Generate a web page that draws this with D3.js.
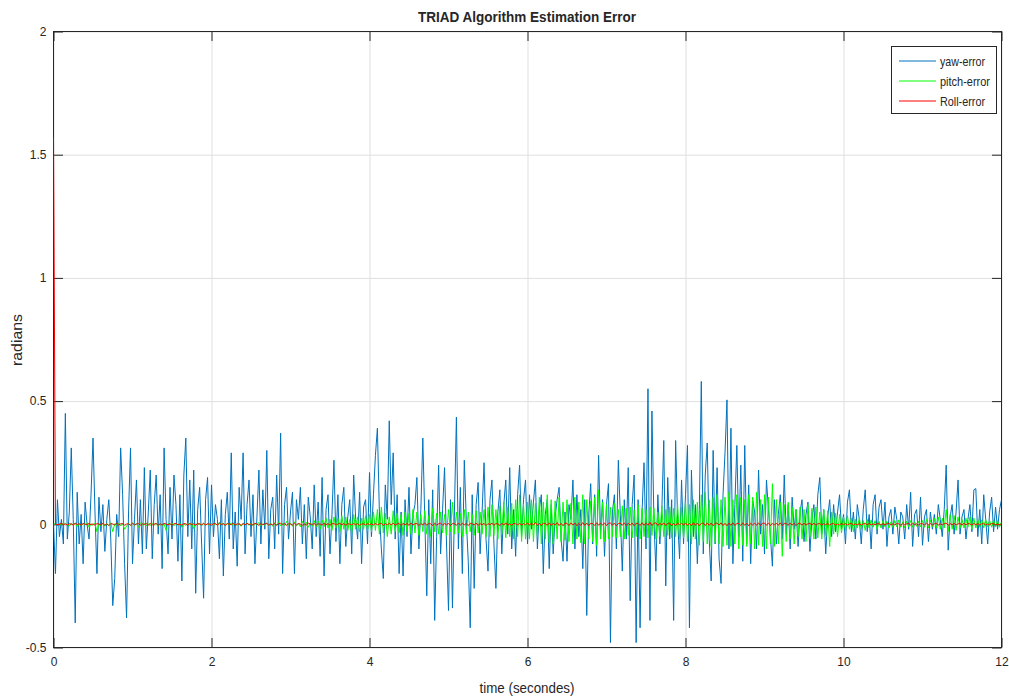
<!DOCTYPE html>
<html>
<head>
<meta charset="utf-8">
<script src="https://cdn.jsdelivr.net/npm/d3@7"></script>
<style>
  body { margin: 0; background: #fff; }
  text { font-family: "Liberation Sans Narrow", "Arial Narrow", "Liberation Sans", Arial, sans-serif; fill: #262626; }
</style>
</head>
<body>
<svg id="chart" width="1009" height="698"></svg>
<script>
// Axis ticks
const xTicks = [0, 2, 4, 6, 8, 10, 12];
const yTicks = [-0.5, 0, 0.5, 1, 1.5, 2];
const seriesNames = ["yaw-error", "pitch-error", "Roll-error"];
const seriesColors = ["#0072BD", "#00FF00", "#FF0000"];

// Estimation errors (radians), evenly sampled over 0..12 s
const yaw = [
  0.0, -0.20, 0.10, -0.05, 0.02, -0.08, 0.45, -0.06, 0.05, 0.31, 0.02, -0.40, 0.13, -0.08, 0.04, -0.16, 0.09, 0.0, -0.06, 0.12,
  0.35, 0.05, -0.20, 0.11, -0.03, 0.08, -0.11, 0.02, 0.10, -0.06, -0.33, -0.22, 0.04, -0.05, 0.31, 0.12, -0.16, -0.38, 0.05, 0.31,
  -0.16, 0.02, 0.18, -0.08, 0.10, -0.12, 0.23, -0.10, 0.05, 0.22, -0.14, 0.08, 0.20, -0.04, 0.12, -0.18, 0.31, 0.02, -0.12, 0.15,
  -0.06, 0.20, 0.08, -0.15, 0.12, -0.23, 0.20, 0.35, -0.05, 0.18, -0.10, 0.22, -0.28, 0.06, 0.15, -0.08, -0.30, 0.10, 0.19, -0.12,
  0.16, -0.05, 0.08, 0.02, -0.14, 0.10, -0.21, 0.04, 0.13, -0.06, 0.29, -0.10, 0.05, -0.17, 0.15, 0.02, 0.29, -0.12, 0.08, 0.18,
  -0.05, 0.12, -0.16, 0.03, 0.22, -0.08, 0.14, -0.02, 0.30, -0.14, 0.06, 0.11, -0.10, 0.20, -0.04, 0.37, -0.20, 0.08, 0.15, -0.06,
  0.05, 0.13, -0.20, 0.10, 0.02, 0.15, -0.08, 0.08, -0.14, 0.11, 0.03, -0.10, 0.16, -0.05, 0.09, -0.13, 0.19, -0.21, 0.06, 0.12,
  -0.12, 0.04, 0.26, -0.07, 0.12, -0.16, 0.08, 0.15, -0.09, 0.03, 0.10, -0.12, 0.20, 0.02, -0.06, 0.13, -0.16, 0.07, 0.10, -0.08,
  0.21, -0.05, 0.12, 0.28, 0.39, 0.05, -0.10, -0.22, 0.16, 0.02, 0.42, 0.08, 0.29, -0.06, 0.12, -0.20, 0.05, -0.21, 0.10, -0.05,
  0.15, -0.12, 0.04, 0.08, 0.19, -0.10, 0.06, 0.35, 0.02, -0.29, 0.10, -0.16, 0.14, -0.39, -0.05, 0.24, -0.12, 0.06, 0.23, -0.08,
  -0.35, 0.10, -0.34, 0.05, 0.435, -0.10, 0.15, -0.20, 0.26, 0.02, -0.15, -0.42, 0.12, -0.26, 0.08, 0.17, -0.12, 0.05, 0.25, -0.06,
  -0.19, 0.10, 0.18, -0.08, -0.26, 0.05, 0.14, -0.12, 0.08, 0.18, -0.04, 0.23, -0.10, 0.06, -0.13, 0.12, 0.24, -0.05, 0.10, 0.18,
  -0.08, 0.12, -0.02, 0.09, 0.18, -0.10, 0.06, 0.12, -0.20, 0.04, 0.10, -0.18, 0.08, -0.12, 0.03, 0.10, 0.15, -0.06, -0.15, 0.05,
  -0.15, 0.08, 0.02, 0.18, -0.10, 0.12, -0.05, 0.06, -0.18, 0.10, -0.37, 0.04, 0.165, -0.08, 0.12, -0.13, 0.28, -0.04, 0.10, -0.13,
  0.08, 0.165, -0.48, 0.05, 0.12, -0.10, 0.26, 0.04, -0.19, 0.10, -0.06, 0.23, -0.31, 0.08, 0.20, -0.48, 0.10, -0.42, 0.05, 0.25,
  -0.10, 0.55, -0.39, 0.46, 0.02, -0.19, 0.12, -0.08, 0.05, 0.34, -0.25, 0.19, -0.06, 0.10, -0.39, 0.34, 0.02, -0.14, 0.18, -0.08,
  0.12, 0.32, -0.42, 0.22, -0.05, 0.08, -0.16, 0.06, 0.58, -0.12, 0.20, 0.33, -0.06, -0.23, 0.30, -0.08, 0.23, -0.14, -0.24, 0.12,
  0.29, 0.505, -0.10, 0.39, -0.16, 0.08, 0.32, -0.05, 0.24, -0.15, 0.32, -0.08, 0.16, -0.16, 0.10, 0.05, -0.10, 0.22, -0.04, 0.08,
  -0.12, 0.18, 0.06, -0.05, -0.17, 0.10, -0.08, 0.04, 0.12, -0.06, 0.20, -0.04, 0.08, -0.10, 0.11, -0.02, 0.06, -0.09, 0.05, 0.10,
  -0.07, 0.04, 0.09, -0.11, 0.02, 0.08, -0.06, 0.12, 0.19, -0.04, 0.06, -0.12, 0.03, 0.10, -0.05, 0.08, -0.03, 0.05, 0.12, -0.02,
  0.04, -0.08, 0.09, 0.14, -0.03, 0.05, -0.06, 0.08, 0.02, -0.08, 0.06, 0.14, -0.03, 0.04, -0.10, 0.08, 0.12, -0.04, 0.07, 0.10,
  -0.02, 0.09, -0.09, 0.03, 0.06, -0.04, 0.07, 0.02, -0.08, 0.05, 0.03, -0.06, 0.08, -0.02, 0.13, -0.09, 0.04, 0.06, -0.05, 0.11,
  -0.085, 0.03, 0.06, -0.07, 0.05, -0.02, 0.04, -0.04, 0.08, 0.02, -0.05, 0.06, 0.24, -0.105, 0.03, 0.08, -0.04, 0.05, 0.18, -0.04,
  0.03, 0.06, -0.06, 0.02, 0.08, -0.03, 0.14, 0.145, -0.05, 0.06, -0.08, 0.12, 0.02, -0.08, 0.05, 0.11, -0.03, 0.07, -0.02, 0.06,
  0.10
];

const pitch = [
  0, .003, -.005, .002, -.004, .006, -.003, .002, -.008, .004, -.002, .005, -.01, .003, -.006, .004, -.002, .006, -.012, .003,
  -.004, .005, -.03, .002, -.006, .004, -.008, .003, -.005, .006, -.03, .002, -.004, .005, -.006, .003, -.02, -.008, .004, -.005,
  .006, -.004, .003, -.012, .005, -.003, .004, -.006, .002, -.005, .006, -.003, .004, -.008, .003, -.005, .002, -.025, .004, -.003,
  .005, -.006, .003, -.004, .006, -.012, .002, -.005, .004, -.003, .006, -.018, .003, -.004, .005, -.006, .004, -.003, .002, -.005,
  .004, -.006, .003, -.004, .008, -.003, .005, -.006, .004, -.002, .006, -.005, .003, -.004, .005, -.008, .004, -.003, .006, -.004,
  .005, -.006, .004, -.003, .008, -.005, .003, -.004, .006, -.005, .004, -.008, .006, -.003, .01, -.006, .004, -.005, .012, -.004,
  .006, -.008, .01, -.006, .004, -.01, .012, -.005, .008, -.012, .006, -.008, .015, -.01, .012, -.02, .018, -.01, .025, -.015,
  .02, -.025, .03, -.015, .025, -.03, .035, -.02, .03, -.025, .02, -.035, .04, -.02, .03, -.03, .025, -.02, .035, -.025,
  .04, -.03, .05, -.025, .06, -.04, .07, -.035, .045, -.05, .03, -.04, .055, -.03, .045, -.035, .04, -.045, .05, -.03,
  .045, -.04, .06, -.035, .05, -.045, .04, -.03, .055, -.04, .035, -.05, .065, -.03, .045, -.04, .05, -.035, .04, -.045,
  .06, -.03, .09, -.04, .05, -.035, .045, -.05, .06, -.04, .05, -.03, .04, -.045, .055, -.035, .05, -.04, .06, -.05,
  .07, -.05, .08, -.045, .06, -.06, .075, -.04, .09, -.055, .07, -.05, .085, -.06, .1, -.05, .12, -.07, .08, -.06,
  .09, -.06, .1, -.07, .085, -.05, .11, -.08, .09, -.06, .12, -.075, .1, -.08, .095, -.06, .11, -.07, .09, -.065,
  .1, -.07, .085, -.08, .11, -.06, .09, -.075, .12, -.08, .1, -.06, .095, -.07, .11, -.085, .14, -.06, .09, -.07,
  .08, -.06, .07, -.05, .085, -.055, .06, -.05, .075, -.06, .065, -.045, .07, -.055, .06, -.05, .08, -.06, .065, -.05,
  .06, -.055, .07, -.045, .065, -.06, .05, -.05, .075, -.05, .06, -.045, .07, -.055, .065, -.05, .08, -.06, .07, -.055,
  .09, -.07, .08, -.08, .1, -.06, .09, -.085, .12, -.07, .13, -.08, .1, -.09, .11, -.075, .12, -.08, .1, -.09,
  .11, -.085, .13, -.09, .1, -.08, .12, -.1, .11, -.085, .1, -.09, .12, -.08, .11, -.1, .13, -.085, .1, -.09,
  .12, -.1, .11, -.08, .165, -.09, .1, -.08, .09, -.13, .08, -.07, .09, -.06, .07, -.08, .06, -.05, .07, -.06,
  .06, -.07, .08, -.05, .065, -.06, .07, -.055, .05, -.06, .06, -.045, .055, -.09, .05, -.04, .045, -.05, .04, -.035,
  .03, -.025, .035, -.02, .025, -.03, .02, -.015, .025, -.02, .015, -.025, .02, -.015, .018, -.012, .015, -.02, .012, -.015,
  .015, -.01, .012, -.015, .01, -.012, .015, -.01, .018, -.012, .01, -.015, .012, -.01, .015, -.012, .01, -.008, .012, -.01,
  .015, -.012, .02, -.015, .018, -.01, .025, -.015, .03, -.02, .025, -.015, .06, -.03, .04, -.02, .035, -.025, .03, -.015,
  .02, -.015, .025, -.012, .03, -.02, .025, -.015, .02, -.012, .018, -.015, .02, -.01, .015, -.012, .018, -.01, .015, -.012,
  .01
];

const roll = [
  1.571, .002, -.003, .001, .004, -.002, .003, -.004, .002, .001, -.003, .004, -.001, .002, -.004, .003, .001, -.002, .004, -.003,
  .002, -.004, .003, .001, -.002, .004, -.003, .002, -.005, .003, .001, -.002, .004, -.003, .002, .003, -.004, .001, .002, -.003,
  .004, -.002, .001, .003, -.004, .002, -.001, .003, -.003, .004, -.002, .001, .003, -.004, .002, -.003, .004, .001, -.002, .003,
  -.003, .002, .004, -.002, .001, -.004, .003, .002, -.003, .004, -.001, .002, -.004, .003, .001, -.002, .004, -.003, .002, .001,
  -.004, .003, .002, -.003, .004, -.001, .002, -.004, .003, .001, -.002, .005, -.003, .002, .001, -.004, .003, -.002, .004, -.001,
  .002, -.003, .004, .001, -.004, .003, -.002, .002, .004, -.003, .001, -.002, .003, -.004, .002, .004, -.001, .003, -.004, .002,
  .001, -.003, .004, -.002, .003, .001, -.004, .002, -.003, .004, .002, -.001, .003, -.004, .002, .001, -.003, .004, -.002, .003,
  -.004, .002, .003, -.003, .001, .004, -.002, .003, -.004, .002, .001, -.003, .004, -.002, .003, -.004, .001, .002, -.003, .004,
  -.002, .003, -.004, .005, -.003, .002, .004, -.005, .003, -.002, .004, -.003, .005, -.004, .002, .003, -.005, .004, -.002, .003,
  -.004, .005, -.003, .002, .004, -.005, .003, -.002, .005, -.004, .003, .002, -.005, .004, -.003, .002, .005, -.004, .003, -.002,
  .004, -.005, .003, .002, -.004, .005, -.003, .004, -.002, .003, -.005, .004, .002, -.003, .005, -.004, .003, -.002, .004, -.005,
  .003, -.002, .005, -.004, .003, .002, -.005, .004, -.003, .006, -.004, .003, -.005, .004, .002, -.003, .005, -.004, .003, -.002,
  .006, -.004, .005, -.003, .008, -.005, .004, -.006, .005, .003, -.004, .006, -.005, .004, -.003, .007, -.005, .004, -.006, .005,
  .004, -.005, .006, -.003, .005, -.006, .004, -.005, .007, -.004, .005, -.006, .004, .003, -.005, .006, -.004, .005, -.003, .006,
  -.005, .004, .006, -.004, .005, -.006, .003, .005, -.004, .006, -.005, .004, -.003, .005, -.006, .004, .003, -.005, .006, -.004,
  .005, -.004, .008, -.005, .004, .006, -.005, .004, -.003, .006, -.005, .004, .005, -.006, .004, -.005, .006, -.003, .005, -.004,
  .006, -.005, .004, -.006, .007, -.004, .005, -.006, .004, .005, -.005, .006, -.004, .005, -.006, .004, .005, -.003, .006, -.005,
  .004, -.006, .005, -.004, .006, -.005, .004, .003, -.005, .006, -.004, .005, -.006, .004, -.003, .005, -.004, .006, -.005, .004,
  .005, -.004, .006, -.005, .004, -.003, .005, -.004, .006, -.005, .004, .003, -.004, .005, -.003, .004, -.005, .003, .004, -.003,
  .004, -.003, .002, .004, -.003, .005, -.004, .002, .003, -.004, .003, -.002, .004, -.003, .002, .003, -.004, .002, -.003, .004,
  -.002, .003, -.003, .002, .004, -.003, .002, -.002, .003, -.004, .002, .003, -.002, .004, -.003, .002, -.002, .003, .002, -.003,
  .003, -.002, .002, .004, -.003, .002, -.003, .003, .002, -.004, .003, -.002, .002, .003, -.003, .004, -.002, .002, -.003, .003,
  .002, -.003, .004, -.002, .003, -.003, .002, .004, -.003, .002, -.002, .003, .005, -.004, .003, -.002, .004, -.003, .002, .003,
  -.003, .004, -.002, .003, .002, -.003, .004, -.002, .003, -.003, .002, .004, -.003, .002, -.002, .003, .004, -.003, .002, -.002,
  .002
];

const tEnd = 12;
const series = [yaw, pitch, roll].map((vals, k) => ({
  name: seriesNames[k],
  color: seriesColors[k],
  points: vals.map((v, i) => [i * tEnd / (vals.length - 1), v])
}));

const svg = d3.select("#chart");
const W = 1009, H = 698;
const plot = { left: 53.5, right: 1001.5, top: 31.5, bottom: 647.5 };
const axisColor = "#262626";

const x = d3.scaleLinear().domain([0, 12]).range([plot.left, plot.right]);
const y = d3.scaleLinear().domain([-0.5, 2]).range([plot.bottom, plot.top]);

svg.append("rect").attr("width", W).attr("height", H).attr("fill", "#fff");

// Grid lines
svg.append("g")
  .attr("transform", `translate(0,${plot.bottom})`)
  .call(d3.axisBottom(x).tickValues(xTicks).tickSize(-(plot.bottom - plot.top)).tickFormat(""))
  .call(g => g.select(".domain").remove())
  .call(g => g.selectAll("line").attr("stroke", "#dfdfdf"));
svg.append("g")
  .attr("transform", `translate(${plot.left},0)`)
  .call(d3.axisLeft(y).tickValues(yTicks).tickSize(-(plot.right - plot.left)).tickFormat(""))
  .call(g => g.select(".domain").remove())
  .call(g => g.selectAll("line").attr("stroke", "#dfdfdf"));

// Box
svg.append("rect")
  .attr("x", plot.left).attr("y", plot.top)
  .attr("width", plot.right - plot.left).attr("height", plot.bottom - plot.top)
  .attr("fill", "none").attr("stroke", axisColor).attr("stroke-width", 1);

const tickLen = 9.5;
const styleAxis = g => {
  g.select(".domain").remove();
  g.selectAll("line").attr("stroke", axisColor);
  g.selectAll("text")
    .style("font-family", '"Liberation Sans Narrow", "Arial Narrow", Arial, sans-serif')
    .style("font-size", "12px").attr("fill", axisColor);
};

svg.append("g").attr("transform", `translate(0,${plot.bottom})`)
  .call(d3.axisBottom(x).tickValues(xTicks).tickSize(-tickLen).tickPadding(10).tickFormat(d => String(d)))
  .call(styleAxis);
svg.append("g").attr("transform", `translate(0,${plot.top})`)
  .call(d3.axisTop(x).tickValues(xTicks).tickSize(-tickLen).tickFormat(""))
  .call(styleAxis);
svg.append("g").attr("transform", `translate(${plot.left},0)`)
  .call(d3.axisLeft(y).tickValues(yTicks).tickSize(-tickLen).tickPadding(7).tickFormat(d => String(d)))
  .call(styleAxis);
svg.append("g").attr("transform", `translate(${plot.right},0)`)
  .call(d3.axisRight(y).tickValues(yTicks).tickSize(-tickLen).tickFormat(""))
  .call(styleAxis);

// Data lines
svg.append("clipPath").attr("id", "plotClip")
  .append("rect").attr("x", plot.left).attr("y", plot.top)
  .attr("width", plot.right - plot.left).attr("height", plot.bottom - plot.top);

const line = d3.line().x(d => x(d[0])).y(d => y(d[1]));
svg.append("g").attr("clip-path", "url(#plotClip)")
  .selectAll("path").data(series).join("path")
  .attr("d", d => line(d.points))
  .attr("fill", "none")
  .attr("stroke", d => d.color)
  .attr("stroke-width", 1)
  .attr("stroke-linejoin", "round");

// Title and axis labels
svg.append("text").attr("x", 527).attr("y", 22).attr("text-anchor", "middle")
  .style("font-size", "15px").style("font-weight", "bold").attr("fill", "#000")
  .attr("textLength", 218).attr("lengthAdjust", "spacingAndGlyphs")
  .text("TRIAD Algorithm Estimation Error");
svg.append("text").attr("x", 527).attr("y", 693).attr("text-anchor", "middle")
  .style("font-size", "14px")
  .attr("textLength", 95).attr("lengthAdjust", "spacingAndGlyphs")
  .text("time (secondes)");
svg.append("text").attr("transform", "translate(22,340) rotate(-90)").attr("text-anchor", "middle")
  .style("font-size", "14px")
  .attr("textLength", 52).attr("lengthAdjust", "spacingAndGlyphs")
  .text("radians");

// Legend
const legendWidths = [45, 50, 45];
const legend = svg.append("g");
legend.append("rect").attr("x", 891.5).attr("y", 46.5).attr("width", 105).attr("height", 67)
  .attr("fill", "#fff").attr("stroke", axisColor).attr("stroke-width", 1);
series.forEach((s, k) => {
  const ly = 61 + k * 20;
  legend.append("line").attr("x1", 899).attr("x2", 936).attr("y1", ly).attr("y2", ly)
    .attr("stroke", s.color).attr("stroke-width", 1);
  legend.append("text").attr("x", 940).attr("y", ly + 4.5)
    .style("font-size", "13px")
    .attr("textLength", legendWidths[k]).attr("lengthAdjust", "spacingAndGlyphs")
    .text(s.name);
});
</script>
</body>
</html>
